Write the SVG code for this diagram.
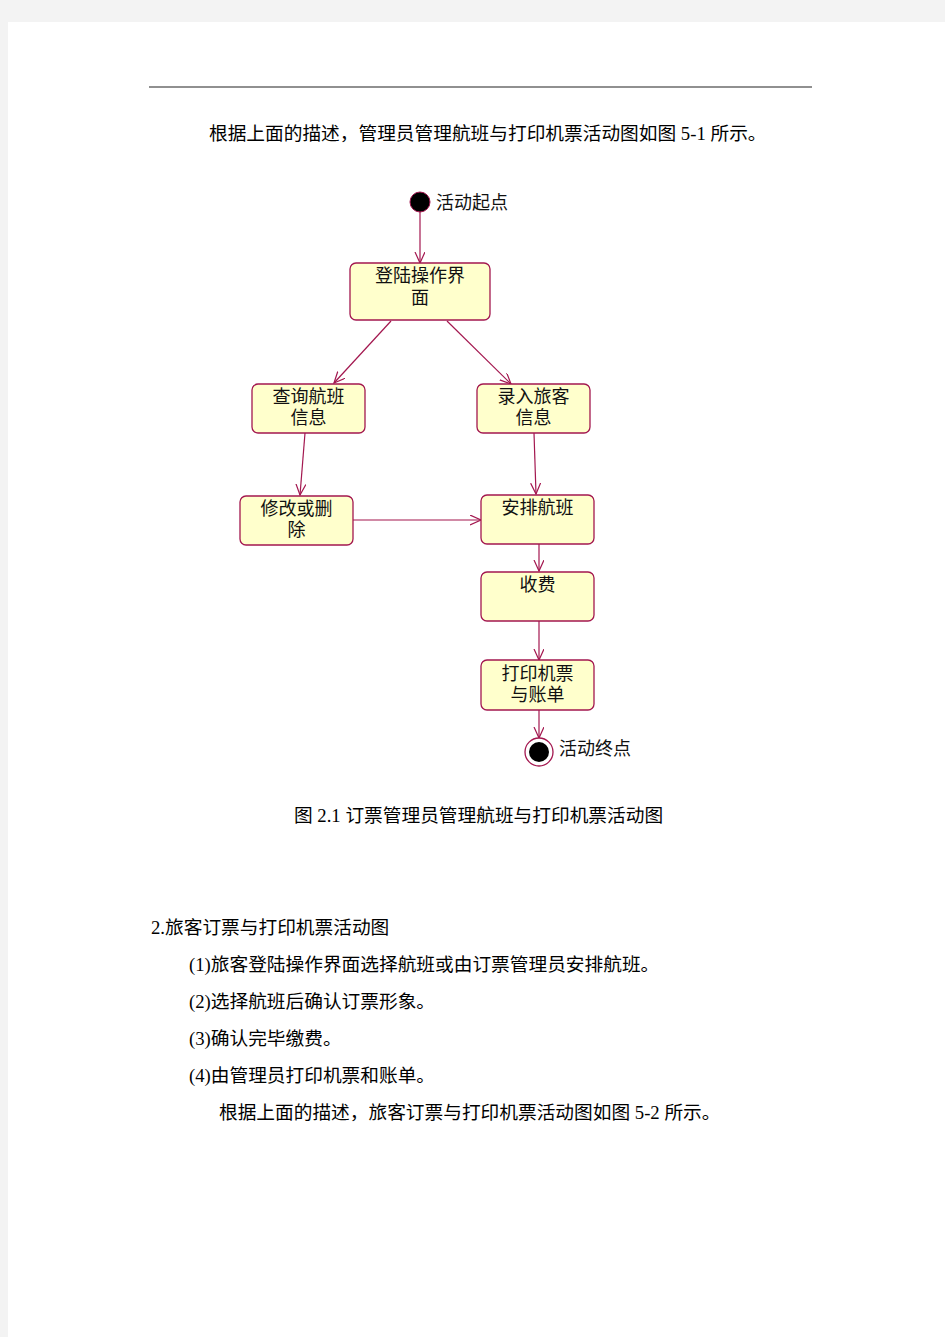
<svg xmlns="http://www.w3.org/2000/svg" width="945" height="1337" viewBox="0 0 945 1337">
<defs>
<style>
.body{font-family:"Liberation Serif","Noto Sans CJK SC",serif;font-size:18.7px;fill:#000}
.lbl{font-family:"Liberation Sans","Noto Sans CJK SC",sans-serif;font-size:18px;fill:#111}
.nt{font-family:"Liberation Sans","Noto Sans CJK SC",sans-serif;font-size:18px;fill:#111;text-anchor:middle}
.box{fill:#ffffcc;stroke:#a3174f;stroke-width:1.3}
.edge{fill:none;stroke:#a3174f;stroke-width:1.2}
</style>
<marker id="arr" markerUnits="userSpaceOnUse" markerWidth="14" markerHeight="12" refX="11" refY="5" orient="auto">
<path d="M0,0 L11,5 L0,10" fill="none" stroke="#a3174f" stroke-width="1.2"/>
</marker>
</defs>
<rect x="0" y="0" width="945" height="1337" fill="#f3f3f3"/>
<rect x="8" y="22" width="937" height="1315" fill="#ffffff"/>
<line x1="149" y1="87" x2="812" y2="87" stroke="#222" stroke-width="1.2"/>
<text class="body" x="209" y="140">根据上面的描述，管理员管理航班与打印机票活动图如图 5-1 所示。</text>

<g id="connectors">
<line class="edge" x1="420" y1="212" x2="420" y2="263" marker-end="url(#arr)"/>
<line class="edge" x1="391" y1="321" x2="334" y2="383" marker-end="url(#arr)"/>
<line class="edge" x1="447" y1="321" x2="511" y2="384" marker-end="url(#arr)"/>
<line class="edge" x1="305" y1="433" x2="300" y2="495" marker-end="url(#arr)"/>
<line class="edge" x1="534" y1="433" x2="536" y2="494" marker-end="url(#arr)"/>
<line class="edge" x1="353" y1="520" x2="481" y2="520" stroke-width="2" marker-end="url(#arr)"/>
<line class="edge" x1="539" y1="544" x2="539" y2="571" marker-end="url(#arr)"/>
<line class="edge" x1="539" y1="621" x2="539" y2="660" marker-end="url(#arr)"/>
<line class="edge" x1="539" y1="710" x2="539" y2="738" marker-end="url(#arr)"/>
</g>

<g id="start">
<circle cx="420" cy="202" r="10" fill="#000" stroke="#a3174f" stroke-width="1"/>
<text class="lbl" x="436" y="209">活动起点</text>
</g>
<g id="n_login">
<rect class="box" x="350" y="263" width="140" height="57" rx="6"/>
<text class="nt" x="420" y="282">登陆操作界</text>
<text class="nt" x="420" y="304">面</text>
</g>
<g id="n_query">
<rect class="box" x="252" y="384" width="113" height="49" rx="6"/>
<text class="nt" x="308.5" y="403">查询航班</text>
<text class="nt" x="308.5" y="424">信息</text>
</g>
<g id="n_input">
<rect class="box" x="477" y="384" width="113" height="49" rx="6"/>
<text class="nt" x="533.5" y="403">录入旅客</text>
<text class="nt" x="533.5" y="424">信息</text>
</g>
<g id="n_modify">
<rect class="box" x="240" y="496" width="113" height="49" rx="6"/>
<text class="nt" x="296.5" y="515">修改或删</text>
<text class="nt" x="296.5" y="536">除</text>
</g>
<g id="n_arrange">
<rect class="box" x="481" y="495" width="113" height="49" rx="6"/>
<text class="nt" x="537.5" y="514">安排航班</text>
</g>
<g id="n_fee">
<rect class="box" x="481" y="572" width="113" height="49" rx="6"/>
<text class="nt" x="537.5" y="591">收费</text>
</g>
<g id="n_print">
<rect class="box" x="481" y="660" width="113" height="50" rx="6"/>
<text class="nt" x="537.5" y="680">打印机票</text>
<text class="nt" x="537.5" y="701">与账单</text>
</g>
<g id="end">
<circle cx="539" cy="752" r="14" fill="#fff" stroke="#a3174f" stroke-width="1.3"/>
<circle cx="539" cy="752" r="10" fill="#000"/>
<text class="lbl" x="559" y="755">活动终点</text>
</g>

<text class="body" x="294" y="822">图 2.1 订票管理员管理航班与打印机票活动图</text>
<text class="body" x="151" y="934">2.旅客订票与打印机票活动图</text>
<text class="body" x="189" y="971">(1)旅客登陆操作界面选择航班或由订票管理员安排航班。</text>
<text class="body" x="189" y="1008">(2)选择航班后确认订票形象。</text>
<text class="body" x="189" y="1045">(3)确认完毕缴费。</text>
<text class="body" x="189" y="1082">(4)由管理员打印机票和账单。</text>
<text class="body" x="219" y="1119">根据上面的描述，旅客订票与打印机票活动图如图 5-2 所示。</text>
</svg>
